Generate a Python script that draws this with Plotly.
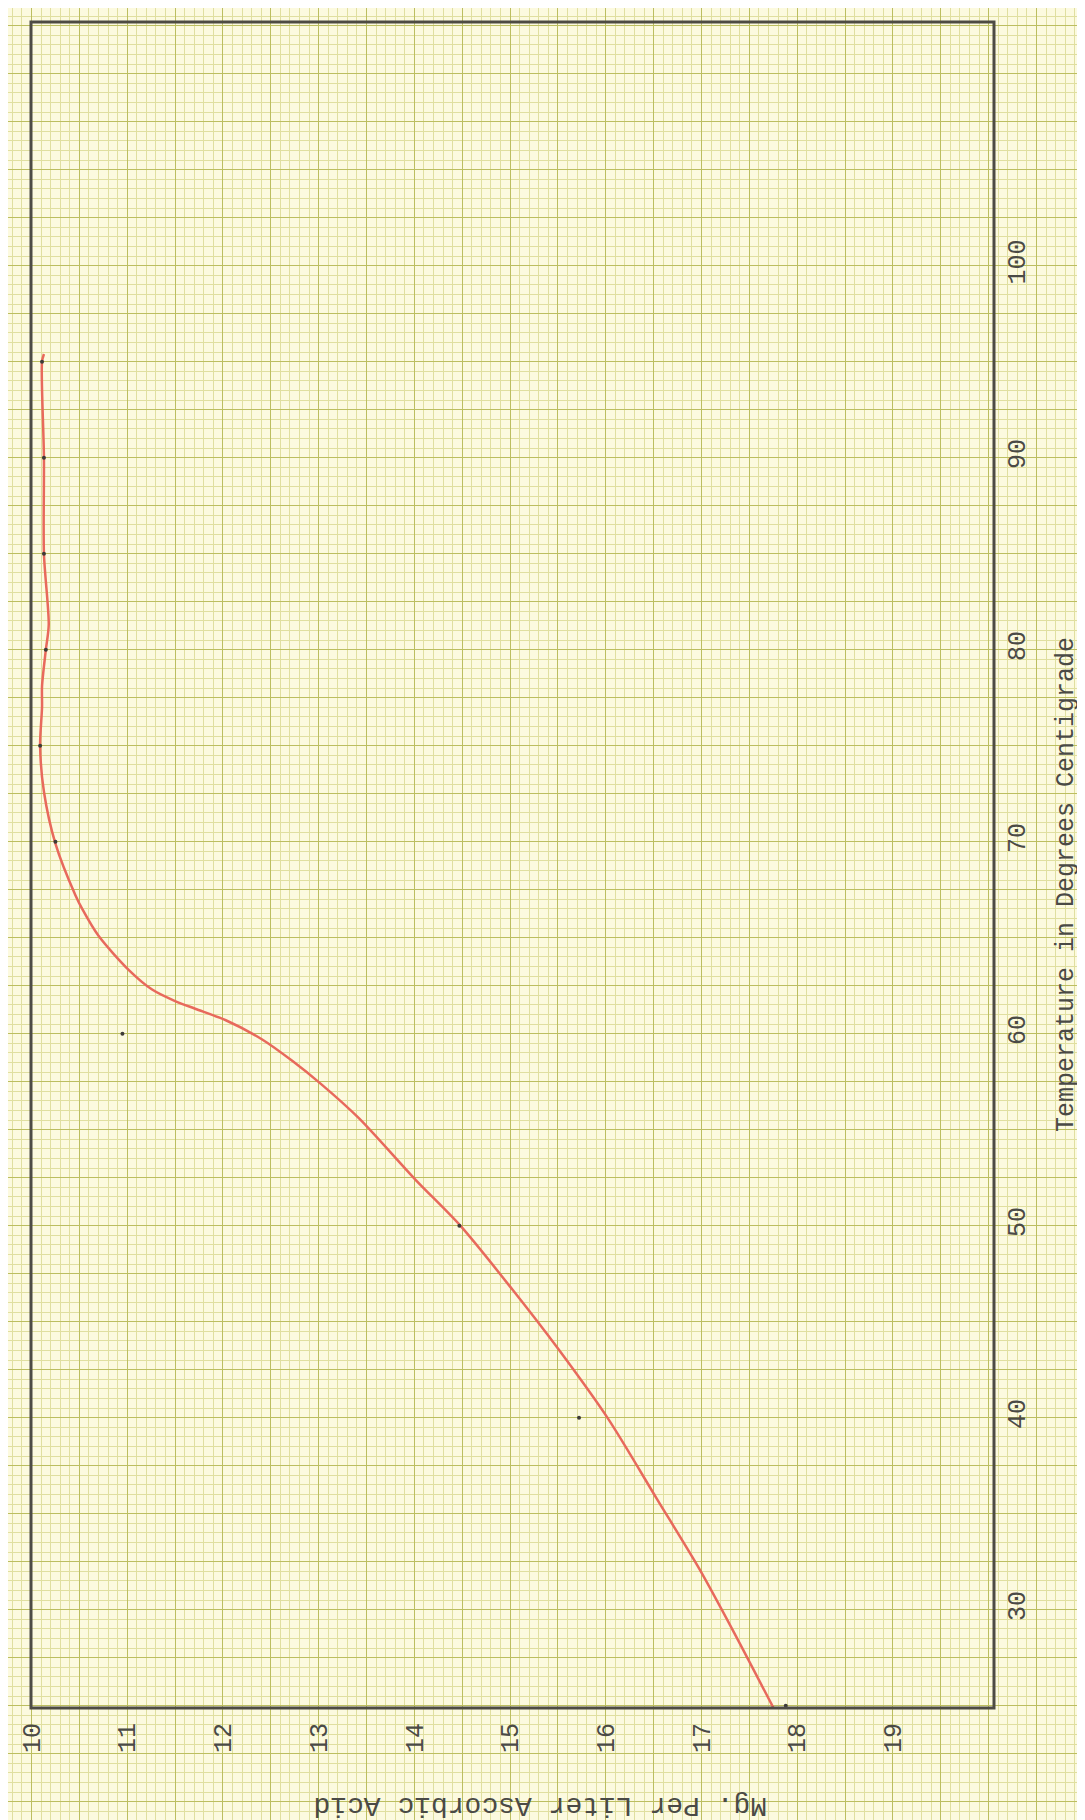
import plotly.graph_objects as go

# ---------------- data ----------------
# Red smooth curve: ascorbic acid (mg per liter) vs temperature (deg C)
curve_temp = [24.9, 28.9, 32.1, 35.8, 39.9, 43.6, 46.7, 50.0, 52.4, 55.6, 57.4,
              58.6, 59.7, 60.7, 61.3, 61.7, 62.3, 63.3, 65.1, 66.5, 67.2, 69.9,
              72.6, 75.0, 77.0, 78.1, 80.0, 81.3, 85.0, 90.0, 95.0, 95.4]
curve_mg = [17.75, 17.33, 16.98, 16.53, 16.03, 15.50, 15.02, 14.48, 14.01, 13.42, 13.02,
            12.72, 12.41, 12.03, 11.71, 11.50, 11.26, 11.02, 10.70, 10.53, 10.46, 10.25,
            10.13, 10.09, 10.11, 10.11, 10.15, 10.18, 10.13, 10.13, 10.11, 10.13]

# Pencil dots (observations)
dot_temp = [25, 40, 50, 60, 70, 75, 80, 85, 90, 95]
dot_mg = [17.88, 15.72, 14.47, 10.95, 10.25, 10.09, 10.15, 10.13, 10.13, 10.11]

# Tick labels
mg_ticks = [10, 11, 12, 13, 14, 15, 16, 17, 18, 19]
mg_tick_labels = ["10", "11", "12", "13", "14", "15", "16", "17", "18", "19"]
temp_ticks = [30, 40, 50, 60, 70, 80, 90, 100]
temp_tick_labels = ["30", "40", "50", "60", "70", "80", "90", "100"]

x_title = "Mg. Per Liter Ascorbic Acid"
y_title = "Temperature in Degrees Centigrade"

# ---------------- page calibration (layout) ----------------
W, H = 1085, 1820
MG10_PX = 23.5       # page x of 10 mg
PX_PER_MG = 95.72
T70_PX = 833.7       # page y of 70 deg
PX_PER_DEG = 19.2

x_range = [10 - MG10_PX / PX_PER_MG, 10 + (W - MG10_PX) / PX_PER_MG]
y_range = [70 - (H - T70_PX) / PX_PER_DEG, 70 + T70_PX / PX_PER_DEG]

# graph-paper ruling: heavy line every 0.5 mg / 2.5 deg, light every 0.1 mg / 0.5 deg
X_MAJOR, X_MINOR = 0.5, 0.1
Y_MAJOR, Y_MINOR = 2.5, 0.5


def ruled_ticks(rng, step, ticks, labels):
    vals, texts = [], []
    k = int(rng[0] // step)
    while k * step <= rng[1]:
        v = round(k * step, 6)
        if v >= rng[0]:
            vals.append(v)
            texts.append(labels[ticks.index(v)] if v in ticks else "")
        k += 1
    return vals, texts


x_vals, x_text = ruled_ticks(x_range, X_MAJOR, mg_ticks, mg_tick_labels)
y_vals, y_text = ruled_ticks(y_range, Y_MAJOR, temp_ticks, temp_tick_labels)

PAPER = "#fcfadf"
MINOR = "#e0dfa0"
MAJOR = "#bcbe60"
INK = "#4a4a46"
RED = "#e8695c"
FONT = "Liberation Mono"

fig = go.Figure()

fig.add_trace(go.Scatter(
    x=curve_mg, y=curve_temp, mode="lines",
    line=dict(color=RED, width=2.5, shape="spline", smoothing=0.8),
    hoverinfo="skip", showlegend=False,
))
fig.add_trace(go.Scatter(
    x=dot_mg, y=dot_temp, mode="markers",
    marker=dict(color="#3d3b38", size=4),
    showlegend=False,
))

fig.update_layout(
    width=W, height=H,
    template="none",
    margin=dict(l=0, r=0, t=0, b=0, pad=0),
    paper_bgcolor=PAPER, plot_bgcolor=PAPER,
    showlegend=False,
    xaxis=dict(range=x_range, tickmode="array", tickvals=x_vals, ticktext=x_text,
               anchor="free", position=1 - 1709 / H, side="bottom",
               tickangle=-90, ticks="", zeroline=False, showline=False,
               showgrid=True, gridcolor=MAJOR, gridwidth=1.2,
               minor=dict(tickmode="linear", tick0=0, dtick=X_MINOR, showgrid=True,
                          gridcolor=MINOR, gridwidth=1, ticks=""),
               tickfont=dict(family=FONT, size=25, color=INK),
               automargin=False, fixedrange=True),
    yaxis=dict(range=y_range, tickmode="array", tickvals=y_vals, ticktext=y_text,
               anchor="free", position=991 / W, side="right",
               tickangle=-90, ticks="", zeroline=False, showline=False,
               showgrid=True, gridcolor=MAJOR, gridwidth=1.2,
               minor=dict(tickmode="linear", tick0=0, dtick=Y_MINOR, showgrid=True,
                          gridcolor=MINOR, gridwidth=1, ticks=""),
               tickfont=dict(family=FONT, size=25, color=INK),
               automargin=False, fixedrange=True),
    shapes=[dict(type="rect", xref="paper", yref="paper",
                 x0=23 / W, x1=986 / W, y0=1 - 1700 / H, y1=1 - 14 / H,
                 line=dict(color="#4d4b44", width=3), fillcolor="rgba(0,0,0,0)")],
    annotations=[
        dict(text=y_title, xref="paper", yref="paper", x=1058 / W, y=1 - 877 / H,
             textangle=-90, showarrow=False, xanchor="center", yanchor="middle",
             font=dict(family=FONT, size=25, color=INK)),
        dict(text=x_title, xref="paper", yref="paper", x=532 / W, y=1 - 1798 / H,
             textangle=180, showarrow=False, xanchor="center", yanchor="middle",
             font=dict(family=FONT, size=28, color=INK)),
    ],
)

fig.write_html("out.html")
